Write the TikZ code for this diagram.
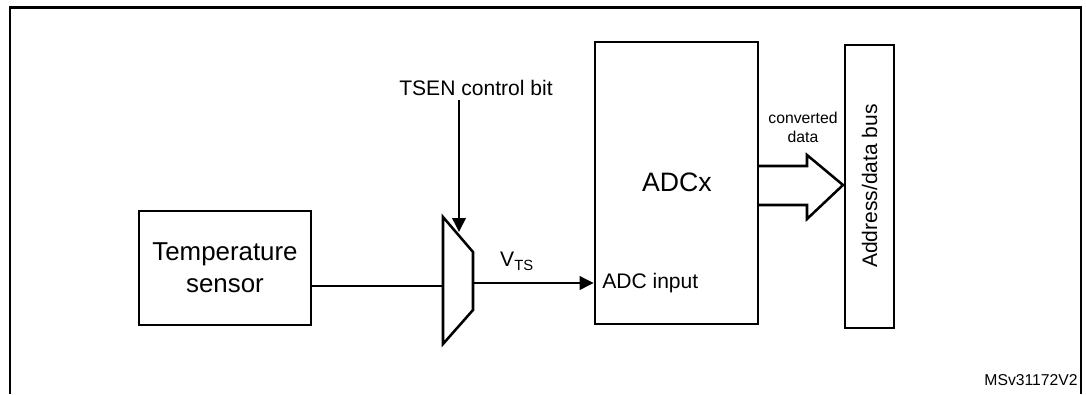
\documentclass[tikz,border=0pt]{standalone}
\usepackage{fontspec}
\setmainfont{Liberation Sans}
\usetikzlibrary{arrows.meta}
\begin{document}
\begin{tikzpicture}[x=0.75pt,y=-0.75pt,
  line width=1.9pt,
  blk/.style={draw, rectangle, inner sep=0pt, align=center},
  lbl/.style={inner sep=0pt, align=center},
  arr/.style={-{Triangle[length=10.5pt,width=10pt]}}]
\useasboundingbox (0,0) rectangle (1086,394);
% frame
\draw (10,394) -- (10,7.5) -- (1081,7.5) -- (1081,394);
% blocks
\node[blk, minimum width=129pt, minimum height=85.5pt, font=\fontsize{19.4pt}{24pt}\selectfont] (ts) at (225,268) {Temperature\\sensor};
\node[blk, minimum width=122.25pt, minimum height=211.5pt] (adc) at (676.5,183) {};
\node[lbl, font=\fontsize{20pt}{24pt}\selectfont] (adcx) at (677,182) {ADCx};
\node[lbl, anchor=west, font=\fontsize{15.8pt}{19pt}\selectfont] (adcin) at (601,283) {ADC input};
\node[blk, minimum width=36.75pt, minimum height=212.25pt] (bus) at (869.5,186.5) {};
\node[lbl, rotate=90, font=\fontsize{15.8pt}{19pt}\selectfont] (buslbl) at (869.5,186) {Address/data bus};
% mux
\coordinate (m1) at (443,217);
\coordinate (m2) at (473,252);
\coordinate (m3) at (473,310);
\coordinate (m4) at (443,344);
\draw[line join=miter] (m1) -- (m2) -- (m3) -- (m4) -- cycle;
\coordinate (muxin) at (443,286);
\coordinate (muxout) at (473,283);
\coordinate (muxtop) at (459,232);
% labels
\node[lbl, font=\fontsize{15.8pt}{19pt}\selectfont] (tsen) at (476,88) {TSEN control bit};
\node[lbl, font=\fontsize{15.8pt}{19pt}\selectfont] (vts) at (517,261) {V\textsubscript{TS}};
\node[lbl, font=\fontsize{11.8pt}{14.3pt}\selectfont] (conv) at (803,127) {converted\\data};
\node[lbl, anchor=east, font=\fontsize{11.8pt}{14pt}\selectfont] (ms) at (1079,380) {MSv31172V2};
% connectors
\draw (ts.east |- muxin) -- (muxin);
\draw[arr] (muxout) -- (adc.west |- muxout);
\coordinate (tsenstart) at (459,100);
\draw[arr] (tsenstart) -- (muxtop);
% fat arrow
\coordinate (fa1) at (758,166);
\coordinate (fa2) at (807,166);
\coordinate (fa3) at (807,155);
\coordinate (fa4) at (843,185);
\coordinate (fa5) at (807,219);
\coordinate (fa6) at (807,205);
\coordinate (fa7) at (758,205);
\draw[line join=miter] (fa1) -- (fa2) -- (fa3) -- (fa4) -- (fa5) -- (fa6) -- (fa7);
\end{tikzpicture}
\end{document}
